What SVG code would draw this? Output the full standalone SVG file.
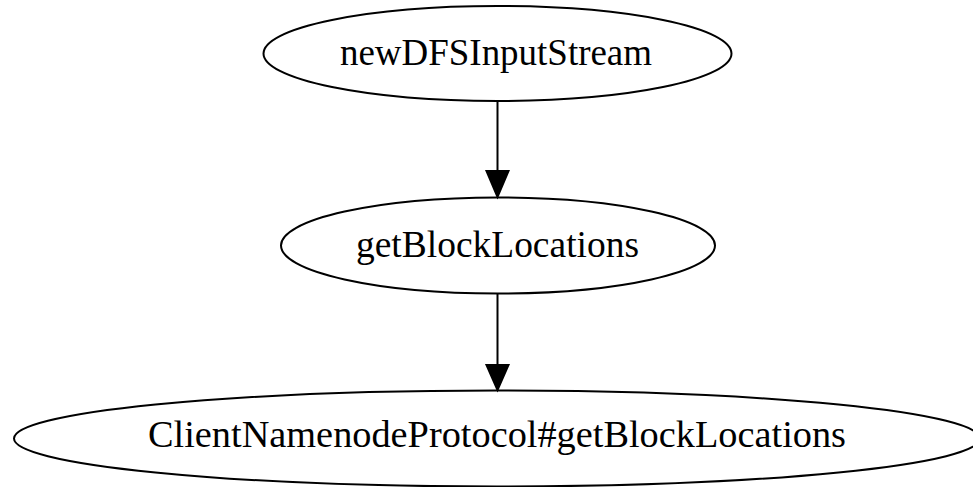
<svg xmlns="http://www.w3.org/2000/svg" width="973" height="487" viewBox="0 0 973 487">
<style>
.node ellipse{fill:none;stroke:#000;stroke-width:2}
.node text{font-family:"Liberation Serif","Times New Roman",serif;font-size:37px;fill:#000;text-anchor:middle}
.edge line{stroke:#000;stroke-width:2}
.edge polygon{fill:#000;stroke:#000;stroke-width:2}
</style>
<rect width="973" height="487" fill="#fff"/>
<g id="node1" class="node">
<ellipse cx="497.5" cy="53.5" rx="234" ry="47.5"/>
<text x="496" y="65" textLength="312" lengthAdjust="spacingAndGlyphs">newDFSInputStream</text>
</g>
<g id="node2" class="node">
<ellipse cx="498" cy="245.5" rx="217" ry="48"/>
<text x="497.5" y="257" textLength="283" lengthAdjust="spacingAndGlyphs">getBlockLocations</text>
</g>
<g id="node3" class="node">
<ellipse cx="497" cy="438.5" rx="483" ry="48"/>
<text x="497" y="447" textLength="698" lengthAdjust="spacingAndGlyphs">ClientNamenodeProtocol#getBlockLocations</text>
</g>
<g id="edges" class="edge">
<line x1="497.5" y1="101" x2="497.5" y2="171"/>
<polygon points="486.5,171 508.5,171 497.5,197"/>
<line x1="497.5" y1="294" x2="497.5" y2="365"/>
<polygon points="486.5,365 508.5,365 497.5,390"/>
</g>
</svg>
